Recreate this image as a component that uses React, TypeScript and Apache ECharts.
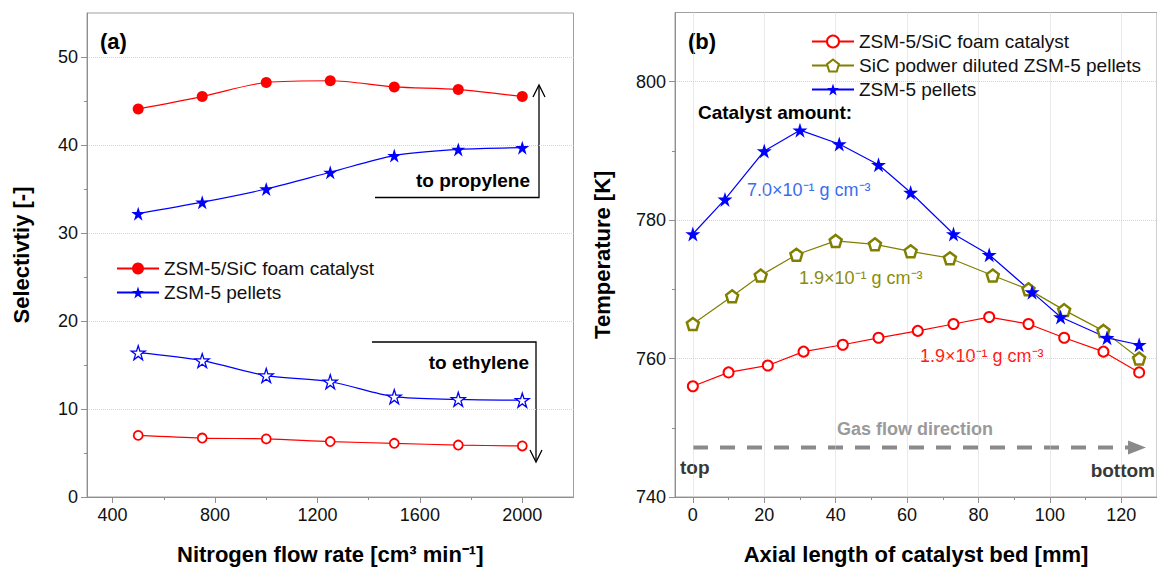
import React, { useEffect, useRef } from 'react';
import * as echarts from 'echarts';

// ---------- Panel (a) data ----------
const flowRates = [500, 750, 1000, 1250, 1500, 1750, 2000];
const foamPropylene = [44.1, 45.5, 47.1, 47.3, 46.6, 46.3, 45.5];
const pelletsPropylene = [32.2, 33.5, 35.0, 36.9, 38.8, 39.5, 39.7];
const pelletsEthylene = [16.4, 15.5, 13.8, 13.1, 11.4, 11.1, 11.0];
const foamEthylene = [7.0, 6.7, 6.6, 6.3, 6.1, 5.9, 5.8];

const flowTicks = [400, 800, 1200, 1600, 2000];
const flowMinorTicks = [600, 1000, 1400, 1800];
const selTicks = [0, 10, 20, 30, 40, 50];
const selMinorTicks = [5, 15, 25, 35, 45];

// ---------- Panel (b) data ----------
const foamPos = [0, 10, 21, 31, 42, 52, 63, 73, 83, 94, 104, 115, 125];
const foamTemp = [756, 758, 759, 761, 762, 763, 764, 765, 766, 765, 763, 761, 758];
const dilutedPos = [0, 11, 19, 29, 40, 51, 61, 72, 84, 94, 104, 115, 125];
const dilutedTemp = [765, 769, 772, 775, 777, 776.5, 775.5, 774.5, 772, 770, 767, 764, 760];
const pelletPos = [0, 9, 20, 30, 41, 52, 61, 73, 83, 95, 103, 116, 125];
const pelletTemp = [778, 783, 790, 793, 791, 788, 784, 778, 775, 769.6, 766, 763, 762];

const lenTicks = [0, 20, 40, 60, 80, 100, 120];
const lenMinorTicks = [10, 30, 50, 70, 90, 110];
const tempTicks = [740, 760, 780, 800];
const tempMinorTicks = [750, 770, 790];

const legendA = ['ZSM-5/SiC foam catalyst', 'ZSM-5 pellets'];
const legendB = ['ZSM-5/SiC foam catalyst', 'SiC podwer diluted ZSM-5 pellets', 'ZSM-5 pellets'];

const FONT = "'Liberation Sans', Arial, Helvetica, sans-serif";
const AXIS_COLOR = '#8f8f8f';
const GRID_COLOR = '#d4d4d4';
const RED = '#ff0000';
const BLUE = '#0000ff';
const OLIVE = '#808000';

const STAR =
  'path://M0,-1L0.2245,-0.309L0.951,-0.309L0.363,0.118L0.588,0.809L0,0.382L-0.588,0.809L-0.363,0.118L-0.951,-0.309L-0.2245,-0.309Z';
const PENTAGON = 'path://M0,-1L0.951,-0.309L0.588,0.809L-0.588,0.809L-0.951,-0.309Z';

const pairs = (xs: number[], ys: number[]) => xs.map((x, i) => [x, ys[i]]);

function mainAxis(cfg: any) {
  return {
    type: 'value',
    gridIndex: cfg.gridIndex,
    position: cfg.position,
    min: cfg.min,
    max: cfg.max,
    axisLine: { show: true, onZero: false, lineStyle: { color: AXIS_COLOR, width: 1 } },
    axisTick: { show: true, customValues: cfg.ticks, length: 6, inside: false, lineStyle: { color: AXIS_COLOR } },
    axisLabel: {
      show: true,
      customValues: cfg.ticks,
      formatter: (v: number) => String(v),
      fontSize: 18,
      color: '#111',
      fontFamily: FONT,
      margin: 9,
    },
    minorTick: { show: false },
    splitLine: { show: cfg.split, lineStyle: { type: 'dotted', color: GRID_COLOR, width: 1 } },
    name: cfg.name,
    nameLocation: 'middle',
    nameGap: cfg.nameGap,
    nameRotate: cfg.nameRotate,
    nameTextStyle: { fontSize: 22, fontWeight: 'bold', color: '#000', fontFamily: FONT },
  };
}

function minorAxis(cfg: any) {
  return {
    type: 'value',
    gridIndex: cfg.gridIndex,
    position: cfg.position,
    offset: 0,
    min: cfg.min,
    max: cfg.max,
    axisLine: { show: false, onZero: false },
    axisTick: { show: true, customValues: cfg.ticks, length: 3, lineStyle: { color: AXIS_COLOR } },
    axisLabel: { show: false },
    splitLine: { show: false },
  };
}

const textEl = (text: string, x: number, y: number, opts: any = {}) => ({
  type: 'text',
  x,
  y,
  silent: true,
  style: {
    text,
    fill: opts.fill || '#000',
    fontSize: opts.fontSize || 18,
    fontWeight: opts.bold ? 'bold' : 'normal',
    fontFamily: FONT,
    textAlign: opts.align || 'left',
    textVerticalAlign: 'middle',
    align: opts.align || 'left',
    verticalAlign: 'middle',
  },
});

const option: any = {
  animation: false,
  backgroundColor: '#ffffff',
  textStyle: { fontFamily: FONT },
  grid: [
    { left: 87, top: 13, width: 486.5, height: 487.5, show: true, borderColor: '#a0a0a0', borderWidth: 1, backgroundColor: 'transparent' },
    { left: 675, top: 12.5, width: 488.6, height: 489.3, show: true, borderColor: '#a0a0a0', borderWidth: 1, backgroundColor: 'transparent' },
  ],
  xAxis: [
    mainAxis({ gridIndex: 0, position: 'bottom', min: 300, max: 2200, ticks: flowTicks, split: false, name: 'Nitrogen flow rate [cm³ min⁻¹]', nameGap: 46 }),
    minorAxis({ gridIndex: 0, position: 'bottom', min: 300, max: 2200, ticks: flowMinorTicks }),
    mainAxis({ gridIndex: 1, position: 'bottom', min: -5, max: 130, ticks: lenTicks, split: true, name: 'Axial length of catalyst bed [mm]', nameGap: 46 }),
    minorAxis({ gridIndex: 1, position: 'bottom', min: -5, max: 130, ticks: lenMinorTicks }),
  ],
  yAxis: [
    mainAxis({ gridIndex: 0, position: 'left', min: 0, max: 55, ticks: selTicks, split: true, name: 'Selectivtiy [-]', nameGap: 55, nameRotate: 90 }),
    minorAxis({ gridIndex: 0, position: 'left', min: 0, max: 55, ticks: selMinorTicks }),
    mainAxis({ gridIndex: 1, position: 'left', min: 740, max: 810, ticks: tempTicks, split: true, name: 'Temperature [K]', nameGap: 62, nameRotate: 90 }),
    minorAxis({ gridIndex: 1, position: 'left', min: 740, max: 810, ticks: tempMinorTicks }),
  ],
  legend: [
    {
      data: legendA.map((n) => 'a:' + n),
      formatter: (n: string) => n.slice(2),
      orient: 'vertical',
      left: 111,
      top: 254,
      itemWidth: 42,
      itemHeight: 15,
      itemGap: 5,
      selectedMode: false,
      textStyle: { fontSize: 19, color: '#111', fontFamily: FONT },
    },
    {
      data: legendB.map((n) => 'b:' + n),
      formatter: (n: string) => n.slice(2),
      orient: 'vertical',
      left: 806,
      top: 27,
      itemWidth: 42,
      itemHeight: 15,
      itemGap: 5,
      selectedMode: false,
      textStyle: { fontSize: 19, color: '#111', fontFamily: FONT },
    },
  ],
  series: [
    {
      name: 'a:ZSM-5/SiC foam catalyst',
      type: 'line',
      xAxisIndex: 0,
      yAxisIndex: 0,
      data: pairs(flowRates, foamPropylene),
      smooth: 0.3,
      symbol: 'circle',
      symbolSize: 11,
      itemStyle: { color: RED },
      lineStyle: { color: RED, width: 1.2 },
    },
    {
      name: 'a:ZSM-5 pellets',
      type: 'line',
      xAxisIndex: 0,
      yAxisIndex: 0,
      data: pairs(flowRates, pelletsPropylene),
      smooth: 0.3,
      symbol: STAR,
      symbolSize: 14,
      itemStyle: { color: BLUE },
      lineStyle: { color: BLUE, width: 1.2 },
    },
    {
      name: 'a:ZSM-5 pellets (ethylene)',
      type: 'line',
      xAxisIndex: 0,
      yAxisIndex: 0,
      data: pairs(flowRates, pelletsEthylene),
      smooth: 0.3,
      symbol: STAR,
      symbolSize: 14,
      itemStyle: { color: '#ffffff', borderColor: BLUE, borderWidth: 1.3 },
      lineStyle: { color: BLUE, width: 1.2 },
    },
    {
      name: 'a:ZSM-5/SiC foam catalyst (ethylene)',
      type: 'line',
      xAxisIndex: 0,
      yAxisIndex: 0,
      data: pairs(flowRates, foamEthylene),
      smooth: 0.3,
      symbol: 'circle',
      symbolSize: 9,
      itemStyle: { color: '#ffffff', borderColor: RED, borderWidth: 1.8 },
      lineStyle: { color: RED, width: 1.2 },
    },
    {
      name: 'b:ZSM-5/SiC foam catalyst',
      type: 'line',
      xAxisIndex: 2,
      yAxisIndex: 2,
      data: pairs(foamPos, foamTemp),
      symbol: 'circle',
      symbolSize: 10,
      itemStyle: { color: '#ffffff', borderColor: RED, borderWidth: 2 },
      lineStyle: { color: RED, width: 1.2 },
    },
    {
      name: 'b:SiC podwer diluted ZSM-5 pellets',
      type: 'line',
      xAxisIndex: 2,
      yAxisIndex: 2,
      data: pairs(dilutedPos, dilutedTemp),
      symbol: PENTAGON,
      symbolSize: 12,
      itemStyle: { color: '#ffffff', borderColor: OLIVE, borderWidth: 2.5 },
      lineStyle: { color: OLIVE, width: 1.2 },
    },
    {
      name: 'b:ZSM-5 pellets',
      type: 'line',
      xAxisIndex: 2,
      yAxisIndex: 2,
      data: pairs(pelletPos, pelletTemp),
      symbol: STAR,
      symbolSize: 15,
      itemStyle: { color: BLUE },
      lineStyle: { color: BLUE, width: 1.2 },
    },
  ],
  graphic: [
    // Panel (a)
    textEl('(a)', 100, 41, { bold: true, fontSize: 22 }),
    textEl('to propylene', 530, 180, { bold: true, fontSize: 19, align: 'right' }),
    textEl('to ethylene', 529, 362, { bold: true, fontSize: 19, align: 'right' }),
    {
      type: 'polyline',
      silent: true,
      shape: { points: [[375, 197.5], [539, 197.5], [539, 86]] },
      style: { stroke: '#000', lineWidth: 1.3, fill: null },
    },
    {
      type: 'polyline',
      silent: true,
      shape: { points: [[533, 97], [539, 85], [545, 97]] },
      style: { stroke: '#000', lineWidth: 1.3, fill: null },
    },
    {
      type: 'polyline',
      silent: true,
      shape: { points: [[372, 342], [536, 342], [536, 461]] },
      style: { stroke: '#000', lineWidth: 1.3, fill: null },
    },
    {
      type: 'polyline',
      silent: true,
      shape: { points: [[530, 450], [536, 462], [542, 450]] },
      style: { stroke: '#000', lineWidth: 1.3, fill: null },
    },
    // Panel (b)
    textEl('(b)', 688, 41, { bold: true, fontSize: 22 }),
    textEl('Catalyst amount:', 698, 112, { bold: true, fontSize: 19 }),
    textEl('7.0×10⁻¹ g cm⁻³', 747, 190, { fill: '#3b6cf0', fontSize: 18 }),
    textEl('1.9×10⁻¹ g cm⁻³', 799, 278, { fill: '#8c8c0a', fontSize: 18 }),
    textEl('1.9×10⁻¹ g cm⁻³', 920, 356, { fill: '#ff1a1a', fontSize: 18 }),
    textEl('Gas flow direction', 915, 429, { fill: '#9a9a9a', bold: true, fontSize: 18, align: 'center' }),
    textEl('top', 680, 467, { fill: '#383838', bold: true, fontSize: 19 }),
    textEl('bottom', 1155, 470, { fill: '#383838', bold: true, fontSize: 19, align: 'right' }),
    {
      type: 'line',
      silent: true,
      shape: { x1: 693, y1: 447.5, x2: 1128, y2: 447.5 },
      style: { stroke: '#8a8a8a', lineWidth: 4, lineDash: [15, 12] },
    },
    {
      type: 'polygon',
      silent: true,
      shape: { points: [[1128, 440.5], [1146, 447.5], [1128, 454.5]] },
      style: { fill: '#8a8a8a' },
    },
  ],
};

export default function App() {
  const ref = useRef<HTMLDivElement>(null);
  useEffect(() => {
    const chart = echarts.init(ref.current as HTMLDivElement, null, { renderer: 'svg' });
    chart.setOption(option);
    return () => chart.dispose();
  }, []);
  return (
    <div
      ref={ref}
      style={{ position: 'fixed', left: 0, top: 0, width: 1157, height: 570, background: '#fff' }}
    />
  );
}
